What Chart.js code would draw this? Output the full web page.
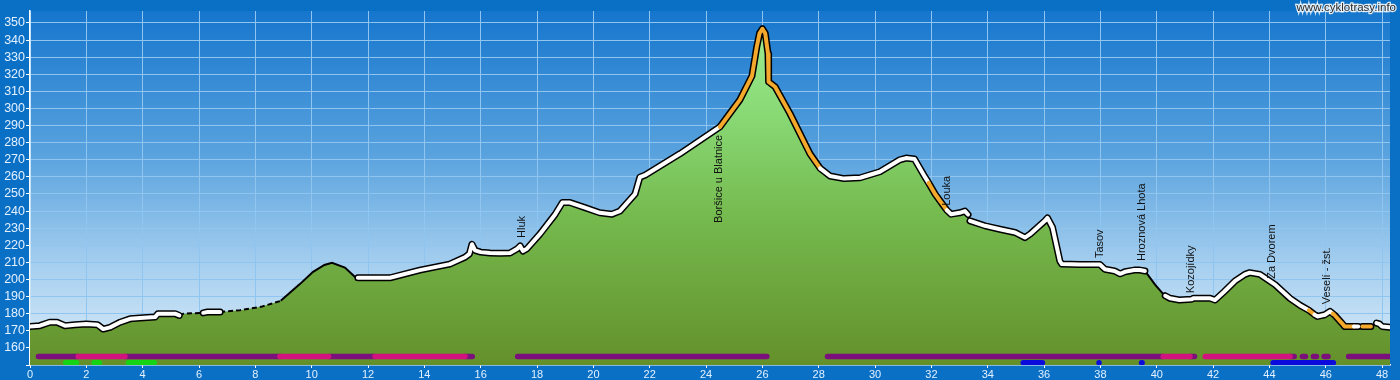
<!DOCTYPE html>
<html><head><meta charset="utf-8">
<script src="https://cdn.jsdelivr.net/npm/chart.js@4.4.1/dist/chart.umd.min.js"></script>
<style>html,body{margin:0;padding:0;background:#0a70c6;overflow:hidden}canvas{display:block}</style>
</head><body>
<canvas id="c" width="1400" height="380"></canvas>
<script>
// ---- profile data (km, metres a.s.l.) ----
const distKm = [0,0.35,0.7,0.96,1.24,1.6,2.0,2.4,2.6,2.84,3.2,3.55,3.9,4.44,4.54,5.15,5.3,5.45,6.15,6.3,6.6,6.75,7.45,8.2,8.9,9.58,10.05,10.45,10.72,11.18,11.54,11.64,12.78,13.84,14.9,15.44,15.6,15.69,15.8,16.0,16.33,16.68,17.04,17.3,17.4,17.5,17.64,18.1,18.64,18.9,19.17,19.7,20.23,20.66,20.94,21.48,21.65,21.83,23.07,24.49,25.2,25.63,25.8,25.9,26.0,26.1,26.2,26.22,26.45,26.98,27.69,28.05,28.4,28.9,29.47,30.17,30.88,31.1,31.4,31.77,31.9,32.13,32.48,32.55,32.7,33.0,33.19,33.3,33.37,33.9,34.43,34.97,35.32,35.5,36.03,36.12,36.3,36.56,36.63,37.27,37.98,38.16,38.5,38.7,38.87,39.2,39.4,39.58,39.94,40.2,40.3,40.47,40.8,41.24,41.3,41.9,42.07,42.4,42.77,43.13,43.3,43.66,44.2,44.73,45.08,45.4,45.6,45.7,45.97,46.15,46.25,46.3,46.57,46.67,47.0,47.15,47.3,47.6,47.8,47.9,48.0,48.28];
const elevation = [172.5,173,175,175,173,173.5,174,173.5,171,172,175,177,177.5,178,180,180,179,180,180.5,181,181,181,182,184,187.5,197.3,204.5,208.5,209.8,207,201.4,201,201,205.5,209,213,215,220.6,217,216,215.5,215.3,215.5,218,219.6,216.6,218,226.5,238,245,245,242,239,238.2,240,250,259.8,261,273.5,289.2,305,319,336,344,346.6,344,332,315.6,312.7,297,273.5,265,260.5,259,259.5,263,270,271,270.5,260,256.5,250,242,240.5,238.2,239,240,238,234.3,231.4,229.4,227.5,224.5,226.5,234.3,236,230.4,210.8,209,208.8,208.8,206,205,203.3,204.5,205.5,205.5,205,197,192,190.5,189,188,188.4,189,189,188,193,199,203,204,203,197,189,185,182,179.5,178.4,179.4,181.4,180,179.4,174.5,172.5,172.5,172.5,172.5,172.5,174.5,174,172.5,172];
// surface of the segment that starts at each point: w = white road, o = orange, d = dashed, n = plain
const surface = ['w','w','w','w','w','w','w','w','w','w','w','w','w','w','w','w','d','d','w','w','w','d','d','d','n','n','n','n','n','n','n','w','w','w','w','w','w','w','w','w','w','w','w','w','w','w','w','w','w','w','w','w','w','w','w','w','w','w','w','o','o','o','o','o','o','o','o','o','o','o','o','w','w','w','w','w','w','w','w','w','o','o','o','w','w','w','w','n','w','w','w','w','w','w','w','w','w','w','w','w','w','w','w','w','w','w','w','n','n','n','w','w','w','w','w','w','w','w','w','w','w','w','w','w','w','o','w','w','w','w','o','o','o','o','w','n','o','n','w','w','w','w'];

// ---- place labels ----
const placeNames = ['Hluk','Boršice u Blatnice','Louka','Tasov','Hroznová Lhota','Kozojídky','Za Dvorem','Veselí - žst.'];
const placeKm    = [17.47,24.46,32.55,37.98,39.47,41.21,44.09,46.04];
const placeElev  = [224.3,233.1,243.1,212.5,210.8,192,200.4,185.5];

// ---- route bars (km ranges) ----
const barPurple  = [[0.3,1.71],[3.37,8.87],[10.6,12.25],[15.44,15.7],[17.31,26.16],[28.31,40.23],[41.18,41.34],[44.73,44.88],[45.17,45.28],[45.56,45.67],[45.94,46.08],[46.81,48.3]];
const barMagenta = [[1.71,3.37],[8.87,10.6],[12.25,15.44],[40.23,41.18],[41.72,44.73]];
const barGreen   = [[1.27,1.65],[2.28,2.46],[3.5,4.41]];
const barBlue    = [[35.26,35.94],[37.95,37.97],[39.46,39.48],[44.13,46.27]];
const upperBarLevel = 155;
const lowerBarLevel = 151.3;

// ---- axis ----
const xTickStep = 2;
const yTickStep = 10;

const profile = distKm.map((d,i)=>({x:d,y:elevation[i]}));

function fillGradient(ctx){
  const ch = ctx.chart, a = ch.chartArea;
  if(!a) return '#70b048';
  const g = ch.ctx.createLinearGradient(0,a.top,0,a.bottom);
  g.addColorStop(0,'#a0f096');
  g.addColorStop(0.3,'#88d874');
  g.addColorStop(0.6,'#74b84c');
  g.addColorStop(0.82,'#6ba23a');
  g.addColorStop(1,'#64902a');
  return g;
}
const segColor = (map)=>(c)=>map[surface[c.p0DataIndex]]||'rgba(0,0,0,0)';

const datasets = [
  {data:profile, fill:'start', backgroundColor:fillGradient, borderColor:'rgba(0,0,0,0)', borderWidth:0,
   pointRadius:0, tension:0, order:21},
  {data:profile, fill:false, borderColor:'#000', borderWidth:2,
   pointRadius:0, tension:0, order:20,
   segment:{borderDash:(c)=>surface[c.p0DataIndex]==='d'?[5,3]:[]}},
  {data:profile, fill:false, borderColor:'rgba(0,0,0,0)', borderWidth:7, pointRadius:0, order:19,
   borderCapStyle:'round', borderJoinStyle:'round',
   segment:{borderColor:segColor({w:'#000',o:'#000'})}},
  {data:profile, fill:false, borderColor:'rgba(0,0,0,0)', borderWidth:4, pointRadius:0, order:18,
   borderCapStyle:'round', borderJoinStyle:'round',
   segment:{borderColor:segColor({w:'#ffffff',o:'#f4a82c'})}},
];
function addBars(ranges,color,level,ord){
  ranges.forEach(r=>{
    datasets.push({data:[{x:r[0],y:level},{x:r[1],y:level}], fill:false, borderColor:color,
      borderWidth:5.5, borderCapStyle:'round', pointRadius:0, order:ord});
  });
}
addBars(barPurple,'#7b0f7b',upperBarLevel,10);
addBars(barMagenta,'#d2127e',upperBarLevel,9);
addBars(barGreen,'#14d414',lowerBarLevel,8);
addBars(barBlue,'#0a0adc',lowerBarLevel,7);

const bgPlugin = {
  id:'bg',
  beforeDraw(chart){
    const {ctx,chartArea:a} = chart;
    ctx.save();
    ctx.fillStyle='#0a70c6';
    ctx.fillRect(0,0,chart.width,chart.height);
    const g = ctx.createLinearGradient(0,a.top,0,a.bottom);
    g.addColorStop(0,'#1676cd');
    g.addColorStop(0.4,'#58a2de');
    g.addColorStop(0.72,'#a6cfef');
    g.addColorStop(1,'#deeefa');
    ctx.fillStyle=g;
    ctx.fillRect(a.left,a.top,a.right-a.left,a.bottom-a.top);
    ctx.restore();
  }
};
const labelPlugin = {
  id:'labels',
  afterDatasetsDraw(chart){
    const {ctx,scales:{x,y}} = chart;
    ctx.save();
    ctx.font='11px "Liberation Sans", Arial, sans-serif';
    ctx.fillStyle='#111';
    ctx.textAlign='left';
    ctx.textBaseline='middle';
    placeNames.forEach((n,i)=>{
      ctx.save();
      ctx.translate(x.getPixelForValue(placeKm[i]), y.getPixelForValue(placeElev[i]));
      ctx.rotate(-Math.PI/2);
      ctx.fillText(n,0,0);
      ctx.restore();
    });
    ctx.restore();
  },
  afterDraw(chart){
    const ctx = chart.ctx;
    ctx.save();
    ctx.font='11.5px "Liberation Sans", Arial, sans-serif';
    ctx.textAlign='right';
    ctx.textBaseline='alphabetic';
    ctx.lineWidth=2.5;
    ctx.strokeStyle='rgba(255,255,255,0.85)';
    ctx.strokeText('www.cyklotrasy.info',1396,11);
    ctx.fillStyle='#2a2a2a';
    ctx.fillText('www.cyklotrasy.info',1396,11);
    ctx.restore();
  }
};

new Chart(document.getElementById('c'),{
  type:'line',
  data:{datasets},
  options:{
    responsive:false, animation:false, devicePixelRatio:1,
    layout:{padding:{top:11,right:10,left:0,bottom:0}},
    plugins:{legend:{display:false},tooltip:{enabled:false}},
    elements:{line:{tension:0}},
    scales:{
      x:{type:'linear',min:0,max:48.28,
         afterFit:(s)=>{s.height=15;},
         ticks:{stepSize:xTickStep,includeBounds:false,autoSkip:false,color:'#e4f1ff',padding:0,maxRotation:0,
                font:{family:'"Liberation Sans Narrow","Liberation Sans",Arial',size:11}},
         grid:{color:'#8fc5ee',lineWidth:1,tickLength:3,tickColor:'#ffffff'},
         border:{color:'#ffffff',width:1.5}},
      y:{type:'linear',min:150,max:357,
         afterFit:(s)=>{s.width=30;},
         ticks:{stepSize:yTickStep,includeBounds:false,autoSkip:false,color:'#e4f1ff',padding:1,
                callback:(v)=>v===150?'':v,
                font:{family:'"Liberation Sans Narrow","Liberation Sans",Arial',size:12.5}},
         grid:{color:(c)=>c.tick&&c.tick.value===150?'rgba(0,0,0,0)':'#8fc5ee',lineWidth:1,tickLength:4,tickColor:'#ffffff'},
         border:{color:'#ffffff',width:1.5}}
    }
  },
  plugins:[bgPlugin,labelPlugin]
});
</script>
</body></html>
